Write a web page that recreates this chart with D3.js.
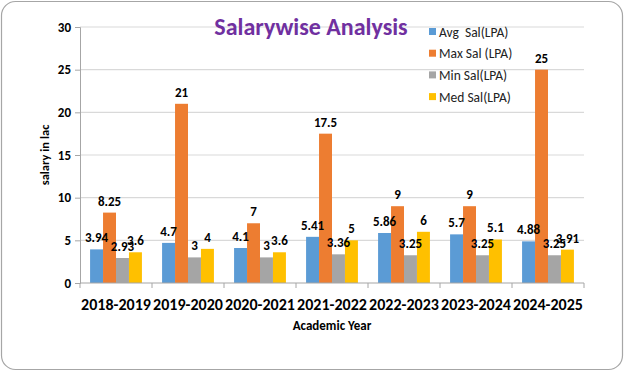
<!DOCTYPE html>
<html>
<head>
<meta charset="utf-8">
<script src="https://cdn.jsdelivr.net/npm/d3@7"></script>
<style>
  body { margin: 0; background: #fff; }
  text { font-family: Calibri, Carlito, "Open Sans", sans-serif; }
</style>
</head>
<body>
<script>
// academic years
const years = ["2018-2019", "2019-2020", "2020-2021", "2021-2022", "2022-2023", "2023-2024", "2024-2025"];
// series
const seriesNames = ["Avg  Sal(LPA)", "Max Sal (LPA)", "Min Sal(LPA)", "Med Sal(LPA)"];
const avgSal = [3.94, 4.7, 4.1, 5.41, 5.86, 5.7, 4.88];
const maxSal = [8.25, 21, 7, 17.5, 9, 9, 25];
const minSal = [2.93, 3, 3, 3.36, 3.25, 3.25, 3.25];
const medSal = [3.6, 4, 3.6, 5, 6, 5.1, 3.91];
const yTicks = [0, 5, 10, 15, 20, 25, 30];

const colors = ["#5B9BD5", "#ED7D31", "#A5A5A5", "#FFC000"];
const series = [avgSal, maxSal, minSal, medSal];

const width = 624, height = 371;
const margin = {left: 80, right: 40, top: 27, bottom: 88};

const svg = d3.select("body").append("svg")
  .attr("width", width).attr("height", height);

// outer frame
svg.append("rect")
  .attr("x", 1.5).attr("y", 1.5)
  .attr("width", width - 3).attr("height", height - 3)
  .attr("rx", 14)
  .attr("fill", "#fff").attr("stroke", "#a6a6a6").attr("stroke-width", 1.2);

const x0 = d3.scaleBand().domain(years)
  .range([margin.left, width - margin.right]).paddingInner(0.28).paddingOuter(0.14);
const x1 = d3.scaleBand().domain(d3.range(4)).range([0, x0.bandwidth()]);
const y = d3.scaleLinear().domain([0, 30]).range([height - margin.bottom, margin.top]);

// gridlines
svg.append("g").selectAll("line").data(yTicks.slice(1)).join("line")
  .attr("x1", margin.left).attr("x2", width - margin.right)
  .attr("y1", d => y(d)).attr("y2", d => y(d))
  .attr("stroke", "#d9d9d9").attr("stroke-width", 1.2);

// y axis
const yAxis = svg.append("g")
  .attr("transform", `translate(${margin.left},0)`)
  .call(d3.axisLeft(y).tickValues(yTicks).tickSize(5).tickPadding(4));
yAxis.select(".domain").attr("stroke", "#a6a6a6");
yAxis.selectAll(".tick line").attr("stroke", "#a6a6a6");
yAxis.selectAll(".tick text")
  .attr("font-size", 13).attr("font-weight", "bold").attr("fill", "#000");

// bars
const groups = svg.append("g").selectAll("g").data(years).join("g")
  .attr("transform", d => `translate(${x0(d)},0)`);

groups.selectAll("rect")
  .data((d, i) => series.map((s, k) => ({k, v: s[i]})))
  .join("rect")
  .attr("x", d => x1(d.k))
  .attr("width", x1.bandwidth())
  .attr("y", d => y(d.v))
  .attr("height", d => y(0) - y(d.v))
  .attr("fill", d => colors[d.k]);

groups.selectAll("text")
  .data((d, i) => series.map((s, k) => ({k, v: s[i]})))
  .join("text")
  .attr("x", d => x1(d.k) + x1.bandwidth() / 2)
  .attr("y", d => y(d.v) - 7)
  .attr("text-anchor", "middle")
  .attr("font-size", 13).attr("font-weight", "bold").attr("fill", "#000")
  .text(d => d.v);

// x axis
const boundaries = d3.range(years.length + 1).map(i => margin.left + i * (width - margin.left - margin.right) / years.length);
const xg = svg.append("g");
xg.append("line")
  .attr("x1", margin.left).attr("x2", width - margin.right)
  .attr("y1", y(0)).attr("y2", y(0))
  .attr("stroke", "#a6a6a6").attr("stroke-width", 1.2);
xg.selectAll(".tk").data(boundaries).join("line")
  .attr("x1", d => d).attr("x2", d => d)
  .attr("y1", y(0)).attr("y2", y(0) + 5)
  .attr("stroke", "#a6a6a6");
xg.selectAll("text").data(years).join("text")
  .attr("x", d => x0(d) + x0.bandwidth() / 2)
  .attr("y", y(0) + 27)
  .attr("text-anchor", "middle")
  .attr("font-size", 16).attr("font-weight", "bold").attr("fill", "#000")
  .text(d => d);

// axis titles
svg.append("text")
  .attr("x", (margin.left + width - margin.right) / 2)
  .attr("y", 330)
  .attr("text-anchor", "middle")
  .attr("font-size", 13).attr("font-weight", "bold")
  .text("Academic Year");

svg.append("text")
  .attr("transform", `translate(49,${(y(0) + y(30)) / 2}) rotate(-90)`)
  .attr("text-anchor", "middle")
  .attr("font-size", 12.5).attr("font-weight", "bold")
  .text("salary in lac");

// title
svg.append("text")
  .attr("x", 311).attr("y", 35)
  .attr("text-anchor", "middle")
  .attr("font-size", 24).attr("font-weight", "bold").attr("fill", "#7030A0")
  .text("Salarywise Analysis");

// legend
const legend = svg.append("g").attr("transform", "translate(429,32)");
const lg = legend.selectAll("g").data(seriesNames).join("g")
  .attr("transform", (d, i) => `translate(0,${i * 21.7})`);
lg.append("rect").attr("x", 0).attr("y", -4).attr("width", 7).attr("height", 7)
  .attr("fill", (d, i) => colors[i]);
lg.append("text").attr("x", 10).attr("y", 0).attr("dy", "0.35em")
  .attr("font-size", 13.5).attr("fill", "#222")
  .style("white-space", "pre")
  .text(d => d);
</script>
</body>
</html>
